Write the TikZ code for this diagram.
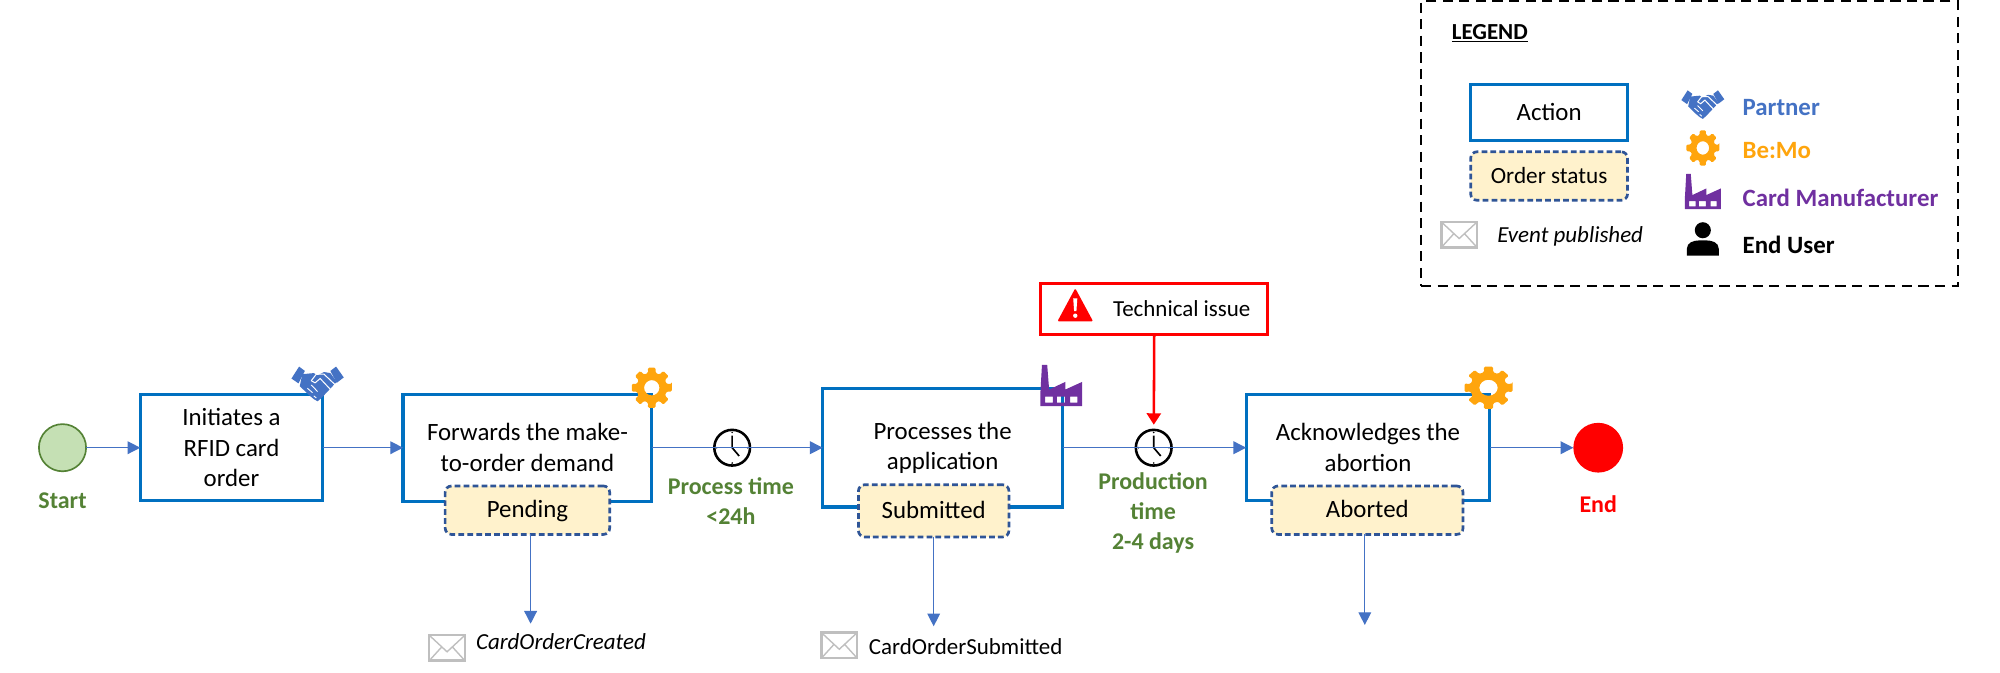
\documentclass[tikz,border=0pt]{standalone}
\usepackage{fontspec}
\setmainfont{Carlito}
\usetikzlibrary{arrows.meta}
\definecolor{actblue}{HTML}{0070C0}
\definecolor{arrowblue}{HTML}{4472C4}
\definecolor{statusline}{HTML}{2F5597}
\definecolor{statusfill}{HTML}{FFF2CC}
\definecolor{flowgreen}{HTML}{548235}
\definecolor{startfill}{HTML}{C5E0B4}
\definecolor{bemo}{HTML}{FFA50D}
\definecolor{manu}{HTML}{7030A0}
\definecolor{envgray}{HTML}{BFBFBF}
\tikzset{
  x=1pt,y=-1pt,
  actbox/.style={draw=actblue,line width=2.5pt,fill=white,inner sep=0pt,outer sep=0pt,align=center,font=\fontsize{19.5}{24}\selectfont},
  statusbox/.style={draw=statusline,line width=2.1pt,dash pattern=on 4.5pt off 2.5pt,fill=statusfill,rounded corners=5pt,inner sep=0pt,outer sep=0pt,text height=13pt,text depth=1pt,font=\fontsize{19.5}{22}\selectfont},
  flow/.style={draw=arrowblue,line width=1pt,-{Triangle[length=10pt,width=10pt]}},
  greenlabel/.style={text=flowgreen,font=\bfseries\fontsize{18.8}{23.5}\selectfont,align=center,inner sep=0pt},
  legendlabel/.style={anchor=west,font=\bfseries\fontsize{19.5}{20}\selectfont,inner sep=0pt},
  evlabel/.style={anchor=west,font=\fontsize{18}{20}\selectfont,inner sep=0pt},
  clock/.style={circle,draw=black,line width=2pt,minimum size=28pt,inner sep=0pt,outer sep=0pt},
  gearicon/.pic={
    \fill[bemo,even odd rule,rounded corners=1pt] (-11:16)
      foreach \a in {0,45,...,315} { -- ({\a-11}:16) -- ({\a+11}:16) -- ({\a+14}:12) -- ({\a+31}:12) } -- cycle
      (0,0) circle (6);
  },
  handicon/.pic={
    \fill[arrowblue] (-20.5,-5) -- (-14.5,-16) -- (-10,-12) -- (-15,-0.5) -- cycle;
    \fill[arrowblue] (20.5,-6) -- (14.5,-16) -- (10,-12) -- (15,-1) -- cycle;
    \fill[arrowblue] (-12,-9) -- (-3,-10) -- (0,-8) -- (5,-11) -- (10,-10) -- (15,-2) -- (7,8) -- (3,13) -- (0,16) -- (-3,14) -- (-7,10) -- (-14,2) -- cycle;
    \draw[white,line width=.8pt] (-5,-3) -- (-1,-9) -- (5,-9) -- (14,1);
    \draw[white,line width=.8pt] (-5,-3) -- (-2,-1) -- (2,-5) -- (10,5);
    \draw[white,line width=.7pt] (-8,4) -- (-4,8) (-5,1) -- (0,7) (-3,11) -- (-1,13);
  },
  facticon/.pic={
    \fill[manu,even odd rule] (-16.4,16.3) -- (-16.4,7) -- (-15.1,-16) -- (-11,-16) -- (-9.5,3.4) -- (3.2,-2.6) -- (3.2,3.4) -- (16.4,-2.6) -- (16.4,16.3) -- cycle
      (-12.6,9) rectangle (-6.6,13.7) (-3.5,9) rectangle (2.8,13.7) (7,9) rectangle (12.6,13.7);
  },
  personicon/.pic={
    \fill[black] (0,-6.5) circle (6.3);
    \fill[black] (-12.5,13.5) -- (-12.5,8) .. controls (-12.5,3) and (-7,1.5) .. (-3,1.5) -- (3,1.5) .. controls (7,1.5) and (12.5,3) .. (12.5,8) -- (12.5,13.5) -- cycle;
  },
  envicon/.pic={
    \draw[envgray,line width=2pt] (-14,-10) rectangle (14,10);
    \draw[envgray,line width=1.1pt] (-14,-10) -- (0,3) -- (14,-10) (-14,10) -- (-4,-1) (14,10) -- (4,-1);
  },
  warnicon/.pic={
    \fill[red,rounded corners=1pt] (-14,13) -- (0,-13) -- (14,13) -- cycle;
    \fill[white] (-1.6,-5) -- (1.6,-5) -- (0.9,5) -- (-0.9,5) -- cycle (0,8.5) circle (1.7);
  },
  hands/.pic={
    \draw[black,line width=1.3pt] (0,-9.5) -- (0,0) -- (5.5,6.5);
    \fill[black] (0,-12) circle (.7) (0,12) circle (.7) (-12,0) circle (.7) (12,0) circle (.7);
  }
}
\begin{document}
\begin{tikzpicture}
\useasboundingbox (0,0) rectangle (1568,527.6);
% legend
\node[draw=black,line width=1.5pt,dash pattern=on 8pt off 5pt,minimum width=421pt,minimum height=223pt,inner sep=0pt,outer sep=0pt] (legend) at (1324.5,112.5) {};
\node[font=\bfseries\fontsize{18}{18}\selectfont,inner sep=0pt] (legendtitle) at (1168,26) {\underline{LEGEND}};
\node[actbox,minimum width=123pt,minimum height=44pt] (lact) at (1214.5,88) {Action};
\node[statusbox,minimum width=123pt,minimum height=38pt,font=\fontsize{18.2}{20}\selectfont] (lstatus) at (1214.5,138) {Order status};
\pic at (1144,184) {envicon};
\node[font=\itshape\fontsize{18}{20}\selectfont,inner sep=0pt] (levent) at (1231,185.5) {Event published};
\pic[xscale=.82,yscale=.7] at (1335,82) {handicon};
\pic[xscale=.82,yscale=.88] at (1335,116) {gearicon};
\pic[xscale=.86,yscale=.86] at (1335,150) {facticon};
\pic at (1335,187) {personicon};
\node[legendlabel,text=arrowblue] (lpartner) at (1366,84) {Partner};
\node[legendlabel,text=bemo] (lbemo) at (1366,118) {Be:Mo};
\node[legendlabel,text=manu] (lmanu) at (1366,155) {Card Manufacturer};
\node[legendlabel,text=black] (luser) at (1366,192) {End User};
% main flow
\node[circle,draw=flowgreen,line width=1.3pt,fill=startfill,minimum size=37pt,inner sep=0pt,outer sep=0pt] (start) at (49,351) {};
\node[greenlabel] (startlabel) at (49,392.5) {Start};
\node[actbox,minimum width=143pt,minimum height=83pt] (b1) at (181.5,351) {Initiates a\\RFID card\\order};
\node[actbox,minimum width=195pt,minimum height=84pt] (b2) at (413.5,351) {Forwards the make-\\to-order demand};
\node[statusbox,minimum width=129pt,minimum height=38pt] (s2) at (413.5,400) {Pending};
\node[actbox,minimum width=188pt,minimum height=93pt] (b3) at (739,351) {Processes the\\application};
\node[statusbox,minimum width=118pt,minimum height=41pt] (s3) at (732,400.5) {Submitted};
\node[actbox,minimum width=191pt,minimum height=83pt] (b4) at (1072.5,351) {Acknowledges the\\abortion};
\node[statusbox,minimum width=150pt,minimum height=38pt] (s4) at (1072,400) {Aborted};
\node[circle,fill=red,minimum size=39pt,inner sep=0pt,outer sep=0pt] (finish) at (1253,351) {};
\node[greenlabel,text=red] (finishlabel) at (1253,395.5) {End};
\node[clock] (c1) at (574,351) {};
\node[clock] (c2) at (904.5,351) {};
\pic at (574,351) {hands};
\pic at (904.5,351) {hands};
\node[greenlabel] (c1label) at (573,392.5) {Process time\\<24h};
\node[greenlabel] (c2label) at (904,402) {Production\\time\\2-4 days};
\node[draw=red,line width=2.2pt,minimum width=178pt,minimum height=40pt,inner sep=0pt,outer sep=0pt] (tech) at (905,242) {};
\node[font=\fontsize{18}{20}\selectfont,inner sep=0pt] (techlabel) at (926.5,242) {Technical issue};
\pic at (843,239) {warnicon};
\pic[yscale=.85] at (249,301) {handicon};
\pic at (511,304) {gearicon};
\pic at (832,302) {facticon};
\pic[xscale=1.2,yscale=1.05] at (1167,304) {gearicon};
% event ends
\coordinate (e2) at (416,489);
\coordinate (e3) at (732,491);
\coordinate (e4) at (1070,490);
\pic at (350.5,508) {envicon};
\pic at (658,506) {envicon};
\node[evlabel,font=\itshape\fontsize{18}{20}\selectfont] (ev2) at (373,503) {CardOrderCreated};
\node[evlabel] (ev3) at (681,507) {CardOrderSubmitted};
% connectors
\draw[flow] (start) -- (b1);
\draw[flow] (b1) -- (b2);
\draw[flow] (b2) -- (b3);
\draw[flow] (b3) -- (b4);
\draw[flow] (b4) -- (finish);
\draw[flow] (s2.south -| e2) -- (e2);
\draw[flow] (s3.south -| e3) -- (e3);
\draw[flow] (s4.south -| e4) -- (e4);
\draw[red,line width=2pt,-{Triangle[length=9pt,width=11pt]},shorten >=4pt] (tech) -- (c2);
\end{tikzpicture}
\end{document}
